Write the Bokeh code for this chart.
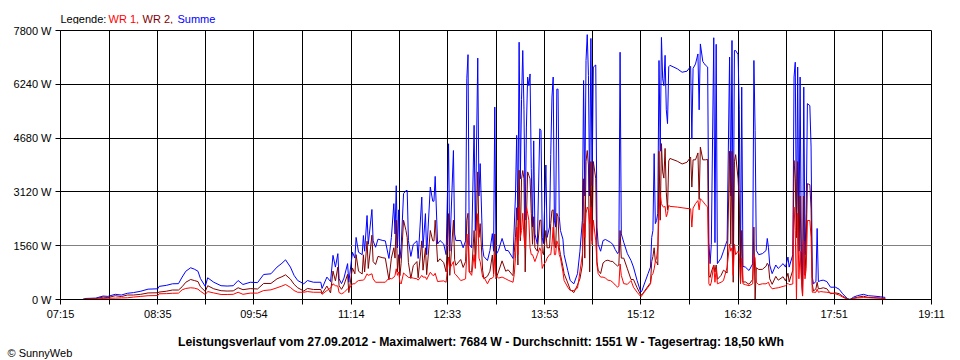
import numpy as np
from bokeh.plotting import figure
from bokeh.layouts import column
from bokeh.models import (Range1d, FixedTicker, CustomJSTickFormatter,
                          PrintfTickFormatter, Grid, Label)
from bokeh.embed import file_html
from bokeh.resources import INLINE

# ---------------- data ----------------
times = [
    "07:33", "07:36", "07:44", "07:50", "07:54", "08:00", "08:05", "08:10", "08:15", "08:21",
    "08:27", "08:35", "08:36", "08:42", "08:47", "08:52", "08:55", "08:58", "09:02", "09:05",
    "09:08", "09:10", "09:14", "09:16", "09:21", "09:27", "09:32", "09:37", "09:41", "09:45",
    "09:51", "09:57", "10:02", "10:08", "10:13", "10:17", "10:20", "10:24", "10:27", "10:30",
    "10:35", "10:38", "10:43", "10:49", "10:50", "10:54", "10:57", "10:59", "11:01", "11:03",
    "11:04", "11:06", "11:08", "11:11", "11:12", "11:15", "11:17", "11:18", "11:20", "11:23",
    "11:24", "11:25", "11:27", "11:28", "11:31", "11:32", "11:34", "11:36", "11:40", "11:42",
    "11:45", "11:47", "11:49", "11:50", "11:51", "11:52", "11:53", "11:54", "11:55", "11:57",
    "11:59", "12:00", "12:01", "12:03", "12:05", "12:08", "12:09", "12:12", "12:13", "12:15",
    "12:16", "12:19", "12:21", "12:22", "12:23", "12:25", "12:27", "12:30", "12:32", "12:34",
    "12:35", "12:38", "12:39", "12:40", "12:44", "12:46", "12:48", "12:49", "12:50", "12:51",
    "12:53", "12:55", "12:56", "12:58", "12:59", "13:00", "13:02", "13:03", "13:06", "13:08",
    "13:10", "13:11", "13:12", "13:13", "13:15", "13:18", "13:21", "13:23", "13:27", "13:28",
    "13:29", "13:30", "13:31", "13:32", "13:33", "13:34", "13:35", "13:36", "13:37", "13:38",
    "13:39", "13:40", "13:41", "13:42", "13:43", "13:44", "13:45", "13:47", "13:49", "13:50",
    "13:51", "13:52", "13:54", "13:55", "13:57", "13:58", "13:59", "14:00", "14:01", "14:02",
    "14:03", "14:04", "14:05", "14:06", "14:08", "14:09", "14:12", "14:14", "14:17", "14:20",
    "14:22", "14:24", "14:25", "14:26", "14:27", "14:28", "14:29", "14:30", "14:31", "14:32",
    "14:33", "14:35", "14:36", "14:37", "14:39", "14:41", "14:43", "14:45", "14:47", "14:49",
    "14:51", "14:53", "14:54", "14:55", "14:56", "14:58", "15:01", "15:04", "15:06", "15:09",
    "15:12", "15:13", "15:14", "15:18", "15:20", "15:21", "15:22", "15:23", "15:24", "15:25",
    "15:26", "15:27", "15:28", "15:29", "15:30", "15:31", "15:32", "15:33", "15:34", "15:35",
    "15:36", "15:42", "15:46", "15:50", "15:53", "15:54", "15:55", "15:57", "15:59", "16:00",
    "16:01", "16:03", "16:04", "16:05", "16:07", "16:08", "16:09", "16:10", "16:12", "16:13",
    "16:14", "16:15", "16:18", "16:20", "16:23", "16:25", "16:26", "16:27", "16:28", "16:29",
    "16:30", "16:32", "16:33", "16:34", "16:35", "16:36", "16:38", "16:41", "16:44", "16:45",
    "16:46", "16:47", "16:49", "16:52", "16:55", "16:56", "16:57", "16:58", "17:00", "17:03",
    "17:05", "17:09", "17:11", "17:13", "17:14", "17:17", "17:18", "17:19", "17:20", "17:21",
    "17:22", "17:23", "17:24", "17:25", "17:26", "17:27", "17:28", "17:29", "17:31", "17:32",
    "17:33", "17:34", "17:36", "17:37", "17:38", "17:40", "17:42", "17:45", "17:48", "17:52",
    "17:55", "17:58", "18:02", "18:04", "18:07", "18:10", "18:15", "18:19", "18:23", "18:29",
    "18:33",
]

summe = [
    0, 30, 40, 100, 90, 150, 130, 180, 200, 240,
    300, 310, 380, 410, 455, 460, 650, 820, 920, 880,
    820, 610, 380, 630, 500, 400, 390, 400, 550, 435,
    500, 490, 725, 745, 940, 1050, 1150, 940, 700, 550,
    455, 550, 500, 500, 320, 650, 520, 1280, 940, 1330,
    600, 460, 620, 1040, 500, 1370, 1200, 1800, 1370, 1300,
    1855, 1400, 2435, 1600, 2610, 1700, 1515, 1750, 1710, 1700,
    1190, 1800, 2780, 1900, 3300, 1500, 2600, 1190, 1500, 3070,
    3160, 3160, 1710, 1250, 1600, 1700, 1190, 2970, 1500, 2490,
    1300, 3260, 2850, 2850, 3570, 1610, 1710, 1610, 1300, 4515,
    1400, 4320, 1900, 1710, 1710, 1500, 1700, 6400, 7100, 1600,
    1500, 5050, 2000, 7000, 3000, 3940, 1500, 1250, 1130, 1420,
    1910, 1400, 5580, 1300, 1420, 1770, 1420, 1420, 1190, 2100,
    3000, 4760, 2300, 7460, 3500, 5800, 7220, 5500, 2300, 5000,
    6450, 6200, 6540, 3800, 2100, 4600, 1900, 1600, 4950, 4900,
    1800, 1620, 3900, 1800, 2100, 4200, 5870, 6450, 2300, 2100,
    6100, 6100, 2400, 2000, 1750, 1300, 840, 550, 455, 750,
    1400, 2300, 6350, 3000, 6930, 7680, 6500, 3000, 7570, 3300,
    6740, 6800, 2100, 1600, 1400, 1710, 1740, 1700, 1660, 1600,
    1450, 1330, 1400, 7170, 1900, 1660, 1330, 1130, 940, 550,
    215, 250, 360, 750, 940, 1800, 2000, 4230, 2200, 2290,
    2500, 6930, 4300, 7600, 6400, 6200, 7080, 5500, 5100, 6750,
    6790, 6690, 6590, 6620, 6760, 4650, 6700, 6830, 7120, 5500,
    7410, 6900, 6850, 6800, 6740, 1650, 1040, 1600, 7590, 1650,
    7400, 1040, 1200, 1400, 1710, 7030, 3000, 7510, 1200, 7220,
    7220, 7100, 5500, 940, 6160, 960, 940, 840, 1035, 6930,
    4900, 1420, 1300, 1330, 1420, 1770, 1500, 1000, 750, 1000,
    900, 1040, 940, 1230, 940, 1300, 6450, 6880, 1800, 6740,
    1400, 6450, 1400, 200, 6160, 1300, 2500, 5680, 5620, 4420,
    650, 455, 520, 2060, 520, 550, 560, 520, 357, 357,
    300, 165, 20, 0, 70, 110, 150, 110, 100, 80,
    60,
]

wr1 = [
    0, 10, 15, 30, 35, 40, 45, 50, 70, 90,
    110, 115, 165, 170, 180, 185, 280, 320, 340, 330,
    300, 240, 145, 230, 190, 145, 145, 150, 210, 150,
    185, 185, 260, 280, 340, 390, 435, 350, 260, 210,
    210, 230, 210, 210, 150, 260, 330, 455, 400, 390,
    200, 165, 200, 310, 300, 455, 455, 500, 550, 560,
    560, 600, 745, 700, 745, 600, 500, 500, 500, 500,
    620, 600, 640, 700, 890, 700, 800, 500, 450, 770,
    700, 680, 640, 640, 620, 600, 560, 700, 650, 650,
    580, 790, 700, 700, 760, 520, 530, 540, 500, 1230,
    900, 1100, 750, 720, 550, 570, 600, 1370, 1900, 800,
    700, 1300, 900, 2490, 1200, 1100, 650, 650, 455, 600,
    620, 660, 1300, 700, 620, 650, 600, 560, 500, 730,
    1200, 2100, 1300, 2680, 1800, 2000, 2500, 1800, 1500, 2680,
    2500, 2300, 1500, 1300, 1300, 1200, 1100, 1300, 1500, 1400,
    900, 1000, 1100, 1200, 1300, 1300, 1600, 2100, 1300, 1300,
    1700, 1600, 1300, 1200, 800, 550, 357, 260, 260, 330,
    800, 1300, 2200, 1800, 2500, 2680, 2600, 2200, 2680, 1600,
    2300, 1700, 1000, 750, 650, 650, 620, 560, 550, 500,
    420, 357, 400, 1030, 700, 460, 440, 550, 357, 210,
    85, 110, 170, 357, 455, 700, 750, 890, 1100, 1200,
    1500, 2500, 3060, 2780, 2700, 2680, 2700, 2400, 2500, 2730,
    2700, 2680, 2660, 2640, 2630, 2100, 2650, 2780, 2870, 2600,
    2920, 2850, 2800, 2750, 2680, 455, 400, 500, 1000, 500,
    900, 455, 500, 550, 940, 1610, 1400, 1500, 700, 1600,
    1300, 1400, 1300, 455, 1200, 455, 430, 400, 455, 1300,
    1200, 500, 430, 455, 455, 480, 500, 400, 310, 330,
    340, 380, 400, 470, 430, 450, 2680, 2000, 0, 2500,
    600, 1400, 600, 100, 1700, 600, 900, 2290, 2290, 1800,
    210, 210, 210, 300, 210, 230, 220, 210, 190, 165,
    130, 70, 5, 0, 30, 45, 55, 50, 45, 40,
    30,
]

wr2 = [
    0, 20, 25, 70, 55, 110, 85, 130, 130, 150,
    190, 195, 215, 240, 275, 275, 370, 500, 580, 550,
    520, 370, 235, 400, 310, 255, 245, 250, 340, 285,
    315, 305, 465, 465, 600, 660, 715, 590, 440, 340,
    245, 320, 290, 290, 170, 390, 190, 825, 540, 940,
    400, 295, 420, 730, 200, 915, 745, 1300, 820, 740,
    1295, 800, 1690, 900, 1865, 1100, 1015, 1250, 1210, 1200,
    570, 1200, 1500, 1200, 2300, 800, 1300, 690, 1050, 2300,
    2000, 1800, 1070, 610, 980, 1100, 630, 1700, 850, 1500,
    720, 2000, 1700, 1700, 2300, 1090, 1180, 1070, 800, 2490,
    700, 2300, 1150, 990, 1160, 930, 1100, 2300, 2500, 800,
    800, 2000, 1100, 3700, 1800, 2200, 850, 600, 675, 820,
    1290, 740, 1900, 600, 800, 1120, 820, 860, 690, 1370,
    1800, 2660, 1000, 3750, 1700, 3500, 3740, 3500, 800, 2300,
    3700, 3600, 3500, 2500, 1600, 2400, 1500, 1400, 2300, 2300,
    1400, 1300, 2000, 1500, 1500, 2200, 2580, 2600, 1600, 1500,
    2500, 2400, 1500, 1300, 950, 750, 480, 290, 200, 420,
    600, 1000, 3500, 1200, 4000, 4320, 3900, 800, 4000, 1700,
    4000, 3500, 1100, 850, 750, 1060, 1120, 1140, 1110, 1100,
    1030, 970, 1000, 2000, 1200, 1200, 890, 580, 580, 340,
    130, 140, 190, 390, 485, 1100, 1250, 1500, 1100, 1090,
    1000, 4300, 2300, 4520, 3700, 3520, 4380, 3100, 2600, 4020,
    4090, 4010, 3930, 3980, 4130, 3260, 4050, 4050, 4250, 2900,
    4420, 4050, 4050, 4050, 4060, 700, 640, 800, 1000, 800,
    1000, 585, 700, 850, 770, 4300, 1600, 4300, 500, 4000,
    4200, 3500, 2800, 485, 2000, 505, 510, 440, 580, 2100,
    0, 920, 870, 875, 965, 1050, 1000, 600, 440, 670,
    560, 660, 540, 760, 510, 850, 4030, 3500, 1800, 4000,
    1400, 3000, 800, 100, 3000, 700, 1600, 3360, 3330, 2620,
    440, 245, 310, 500, 310, 320, 340, 310, 167, 192,
    170, 95, 15, 0, 40, 65, 95, 60, 55, 40,
    30,
]

x_labels = ["07:15", "08:35", "09:54", "11:14", "12:33",
            "13:53", "15:12", "16:32", "17:51", "19:11"]
y_ticks = [0, 1560, 3120, 4680, 6240, 7800]
gray_tick = 1560

legend_parts = [("Legende:", "#000000"), ("WR 1,", "#FF0000"),
                ("WR 2,", "#800000"), ("Summe", "#0000FF")]
title_text = ("Leistungsverlauf vom 27.09.2012 - Maximalwert: 7684 W - "
              "Durchschnitt: 1551 W - Tagesertrag: 18,50 kWh")
copyright_text = "\u00a9 SunnyWeb"

# ---------------- build ----------------
def to_min(s):
    h, m = s.split(":")
    return int(h) * 60 + int(m)

t = np.array([to_min(s) for s in times], dtype=float)
s_arr = np.array(summe, dtype=float)
r1 = np.array(wr1, dtype=float)
r2 = np.array(wr2, dtype=float)

label_min = [to_min(l) for l in x_labels]
tick_pos, tick_txt = [], []
for i, m in enumerate(label_min):
    tick_pos.append(float(m))
    tick_txt.append(x_labels[i])
    if i < len(label_min) - 1:
        tick_pos.append((m + label_min[i + 1]) / 2.0)
        tick_txt.append("")

FONT = "Liberation Sans"
W = 960
xr = Range1d(tick_pos[0], tick_pos[-1])


def blank_fig(h, **kw):
    f = figure(width=W, height=h, output_backend="svg", toolbar_location=None,
               x_axis_type=None, y_axis_type=None, **kw)
    f.grid.visible = False
    f.outline_line_color = None
    f.background_fill_color = "white"
    f.border_fill_color = "white"
    f.frame_align = False
    return f


# ---- top strip: legend text ----
ft = blank_fig(24, x_range=xr, y_range=Range1d(0, 24),
               min_border_left=60, min_border_right=29,
               min_border_top=0, min_border_bottom=0)
offsets = [0, 48, 82, 117]
for (txt, col), off in zip(legend_parts, offsets):
    ft.add_layout(Label(x=tick_pos[0], y=5.5, x_offset=off,
                        text=txt, text_color=col, text_font=FONT,
                        text_font_size="11px", text_baseline="alphabetic",
                        text_align="left"))

# ---- main chart ----
p = figure(width=W, height=299, output_backend="svg", toolbar_location=None,
           x_range=xr, y_range=Range1d(0, y_ticks[-1]),
           min_border_left=60, min_border_right=29, min_border_top=6,
           min_border_bottom=24)
p.background_fill_color = "white"
p.border_fill_color = "white"
p.outline_line_color = "black"
p.frame_align = False

p.xaxis.ticker = FixedTicker(ticks=tick_pos, minor_ticks=[])
p.xaxis.formatter = CustomJSTickFormatter(
    args=dict(tpos=tick_pos, tlbl=tick_txt),
    code="""
    let best = 0;
    for (let k = 0; k < tpos.length; k++) {
        if (Math.abs(tpos[k] - tick) < Math.abs(tpos[best] - tick)) best = k;
    }
    return tlbl[best];
    """)
p.yaxis.ticker = FixedTicker(ticks=y_ticks, minor_ticks=[])
p.yaxis.formatter = PrintfTickFormatter(format="%d W")

for ax in (p.xaxis, p.yaxis):
    ax.axis_line_color = "black"
    ax.axis_line_width = 1
    ax.major_tick_line_color = "black"
    ax.major_tick_out = 5
    ax.major_tick_in = 0
    ax.minor_tick_line_color = None
    ax.major_label_text_font = FONT
    ax.major_label_text_font_size = "11px"
    ax.major_label_text_color = "black"
p.xaxis.major_label_standoff = 3
p.yaxis.major_label_standoff = 4

p.xgrid.ticker = FixedTicker(ticks=tick_pos)
p.xgrid.grid_line_color = "black"
p.xgrid.grid_line_alpha = 1.0
p.ygrid.ticker = FixedTicker(ticks=[v for v in y_ticks if v != gray_tick])
p.ygrid.grid_line_color = "black"
p.ygrid.grid_line_alpha = 1.0
p.add_layout(Grid(dimension=1, ticker=FixedTicker(ticks=[gray_tick]),
                  grid_line_color="#808080", grid_line_alpha=1.0))

p.line(t, s_arr, line_color="#0000FF", line_width=1)
p.line(t, r2, line_color="#800000", line_width=1)
p.line(t, r1, line_color="#FF0000", line_width=1)

# ---- bottom strip: caption and copyright ----
fb = blank_fig(37, x_range=Range1d(0, W), y_range=Range1d(0, 37),
               min_border_left=0, min_border_right=0,
               min_border_top=0, min_border_bottom=0)
fb.add_layout(Label(x=W / 2, y=19, x_offset=0.5, text=title_text,
                    text_color="black", text_font=FONT,
                    text_font_size="12.2px", text_font_style="bold",
                    text_align="center", text_baseline="alphabetic"))
fb.add_layout(Label(x=0, y=7.5, x_offset=7, text=copyright_text,
                    text_color="black", text_font=FONT, text_font_size="11px",
                    text_align="left", text_baseline="alphabetic"))

layout = column(ft, p, fb, spacing=0)
open("out.html", "w").write(file_html(layout, INLINE))
